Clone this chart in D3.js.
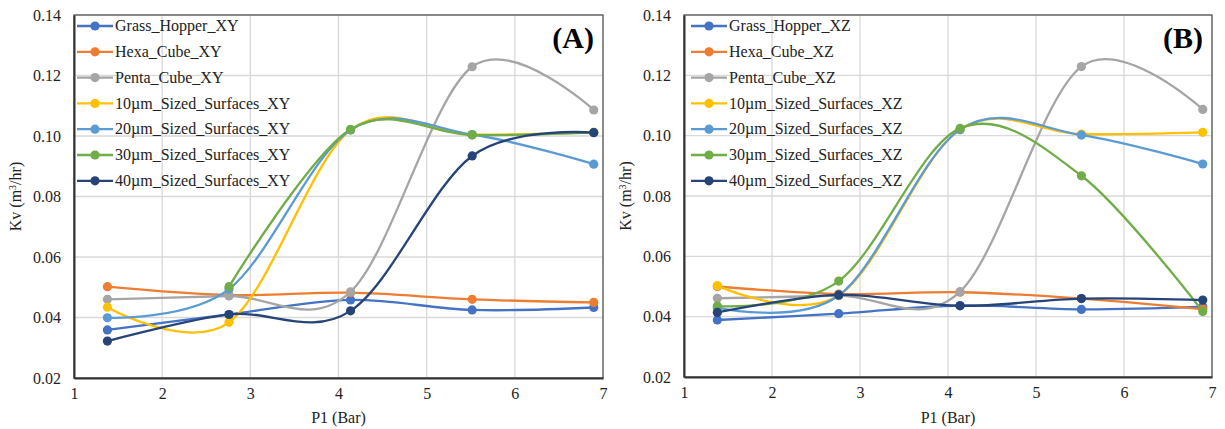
<!DOCTYPE html>
<html>
<head>
<meta charset="utf-8">
<script src="https://cdn.jsdelivr.net/npm/d3@7"></script>
<style>
  html, body { margin: 0; padding: 0; background: #fff; }
  svg { display: block; font-family: "Liberation Serif", "Times New Roman", serif; }
</style>
</head>
<body>
<svg id="chart" width="1225" height="429"></svg>
<script>
// Inlet pressure P1 (bar) for each measurement
const pressures = [1.379, 2.758, 4.137, 5.516, 6.895];

const xTicks = [1, 2, 3, 4, 5, 6, 7];
const yTicks = [0.02, 0.04, 0.06, 0.08, 0.10, 0.12, 0.14];

const seriesColors = ["#4472C4", "#ED7D31", "#A5A5A5", "#FFC000", "#5B9BD5", "#70AD47", "#264478"];

// Panel (A): XY orientation
const namesXY = ["Grass_Hopper_XY", "Hexa_Cube_XY", "Penta_Cube_XY", "10µm_Sized_Surfaces_XY",
                 "20µm_Sized_Surfaces_XY", "30µm_Sized_Surfaces_XY", "40µm_Sized_Surfaces_XY"];
const grassHopperXY = [0.0359, 0.0410, 0.0458, 0.0425, 0.0433];
const hexaCubeXY    = [0.0502, 0.0474, 0.0482, 0.0460, 0.0450];
const pentaCubeXY   = [0.0460, 0.0471, 0.0485, 0.1229, 0.1086];
const sized10XY     = [0.0434, 0.0384, 0.1020, 0.1005, 0.1012];
const sized20XY     = [0.0399, 0.0494, 0.1020, 0.1005, 0.0907];
const sized30XY     = [null,   0.0502, 0.1022, 0.1003, 0.1012];
const sized40XY     = [0.0322, 0.0410, 0.0422, 0.0934, 0.1011];

// Panel (B): XZ orientation
const namesXZ = ["Grass_Hopper_XZ", "Hexa_Cube_XZ", "Penta_Cube_XZ", "10µm_Sized_Surfaces_XZ",
                 "20µm_Sized_Surfaces_XZ", "30µm_Sized_Surfaces_XZ", "40µm_Sized_Surfaces_XZ"];
const grassHopperXZ = [0.0389, 0.0410, 0.0437, 0.0424, 0.0433];
const hexaCubeXZ    = [0.0500, 0.0475, 0.0481, 0.0460, 0.0425];
const pentaCubeXZ   = [0.0461, 0.0470, 0.0483, 0.1229, 0.1087];
const sized10XZ     = [0.0503, 0.0470, 0.1020, 0.1005, 0.1011];
const sized20XZ     = [0.0430, 0.0470, 0.1020, 0.1002, 0.0906];
const sized30XZ     = [0.0435, 0.0518, 0.1024, 0.0867, 0.0417];
const sized40XZ     = [0.0414, 0.0472, 0.0436, 0.0460, 0.0455];

const panels = [
  { tag: "(A)", names: namesXY,
    values: [grassHopperXY, hexaCubeXY, pentaCubeXY, sized10XY, sized20XY, sized30XY, sized40XY],
    left: 74, right: 603, top: 15, bottom: 378, legendX: 3 },
  { tag: "(B)", names: namesXZ,
    values: [grassHopperXZ, hexaCubeXZ, pentaCubeXZ, sized10XZ, sized20XZ, sized30XZ, sized40XZ],
    left: 684, right: 1212, top: 15, bottom: 377, legendX: 7 }
];

const svg = d3.select("#chart");

panels.forEach(p => {
  const x = d3.scaleLinear().domain([1, 7]).range([p.left, p.right]);
  const y = d3.scaleLinear().domain([0.02, 0.14]).range([p.bottom, p.top]);
  const g = svg.append("g");

  // Gridlines
  g.append("g").selectAll("line.h").data(yTicks).join("line")
    .attr("x1", p.left).attr("x2", p.right)
    .attr("y1", d => y(d)).attr("y2", d => y(d))
    .attr("stroke", "#d9d9d9").attr("stroke-width", 1.3);
  g.append("g").selectAll("line.v").data(xTicks).join("line")
    .attr("x1", d => x(d)).attr("x2", d => x(d))
    .attr("y1", p.top).attr("y2", p.bottom)
    .attr("stroke", "#d9d9d9").attr("stroke-width", 1.3);

  // Plot frame
  g.append("rect")
    .attr("x", p.left).attr("y", p.top)
    .attr("width", p.right - p.left).attr("height", p.bottom - p.top)
    .attr("fill", "none").attr("stroke", "#595959").attr("stroke-width", 1.3);

  // Axes
  const xAxis = g.append("g").attr("transform", `translate(0,${p.bottom})`)
    .call(d3.axisBottom(x).tickValues(xTicks).tickSize(0).tickPadding(10).tickFormat(d3.format("d")));
  xAxis.select(".domain").attr("stroke", "#333").attr("stroke-width", 2);
  xAxis.selectAll("text").attr("font-size", 16).attr("fill", "#222")
    .attr("font-family", "Liberation Serif, serif");

  const yAxis = g.append("g").attr("transform", `translate(${p.left},0)`)
    .call(d3.axisLeft(y).tickValues(yTicks).tickSize(0).tickPadding(13).tickFormat(d3.format(".2f")));
  yAxis.select(".domain").attr("stroke", "#333").attr("stroke-width", 2);
  yAxis.selectAll("text").attr("font-size", 16).attr("fill", "#222")
    .attr("font-family", "Liberation Serif, serif");

  // Axis titles
  g.append("text")
    .attr("x", (p.left + p.right) / 2).attr("y", 423)
    .attr("text-anchor", "middle").attr("font-size", 16).attr("fill", "#222")
    .text("P1 (Bar)");
  const yt = g.append("text")
    .attr("transform", `translate(${p.left - 53},${(p.top + p.bottom) / 2}) rotate(-90)`)
    .attr("text-anchor", "middle").attr("font-size", 16).attr("fill", "#222");
  yt.append("tspan").text("Kv (m");
  yt.append("tspan").attr("baseline-shift", "super").attr("font-size", 10).text("3");
  yt.append("tspan").text("/hr)");

  // Series: smoothed lines with markers
  const line = d3.line()
    .defined(d => d[1] != null)
    .x(d => x(d[0])).y(d => y(d[1]))
    .curve(d3.curveCardinal.tension(0));

  p.values.forEach((vals, i) => {
    const pts = pressures.map((px, j) => [px, vals[j]]);
    const s = g.append("g");
    s.append("path").datum(pts)
      .attr("d", line)
      .attr("fill", "none").attr("stroke", seriesColors[i]).attr("stroke-width", 2.3);
    s.selectAll("circle").data(pts.filter(d => d[1] != null)).join("circle")
      .attr("cx", d => x(d[0])).attr("cy", d => y(d[1])).attr("r", 4.6)
      .attr("fill", seriesColors[i]);
  });

  // Legend
  const lg = g.append("g");
  p.names.forEach((name, i) => {
    const ly = 26 + i * 25.8;
    const lx = p.left + p.legendX;
    lg.append("line").attr("x1", lx).attr("x2", lx + 36).attr("y1", ly).attr("y2", ly)
      .attr("stroke", seriesColors[i]).attr("stroke-width", 2.3);
    lg.append("circle").attr("cx", lx + 18).attr("cy", ly).attr("r", 4.6).attr("fill", seriesColors[i]);
    lg.append("text").attr("x", lx + 38).attr("y", ly).attr("dy", "0.33em")
      .attr("font-size", 16).attr("fill", "#222").text(name);
  });

  // Panel tag
  g.append("text")
    .attr("x", p.right - 9).attr("y", 48)
    .attr("text-anchor", "end").attr("font-size", 30).attr("font-weight", "bold")
    .attr("fill", "#000").text(p.tag);
});
</script>
</body>
</html>
